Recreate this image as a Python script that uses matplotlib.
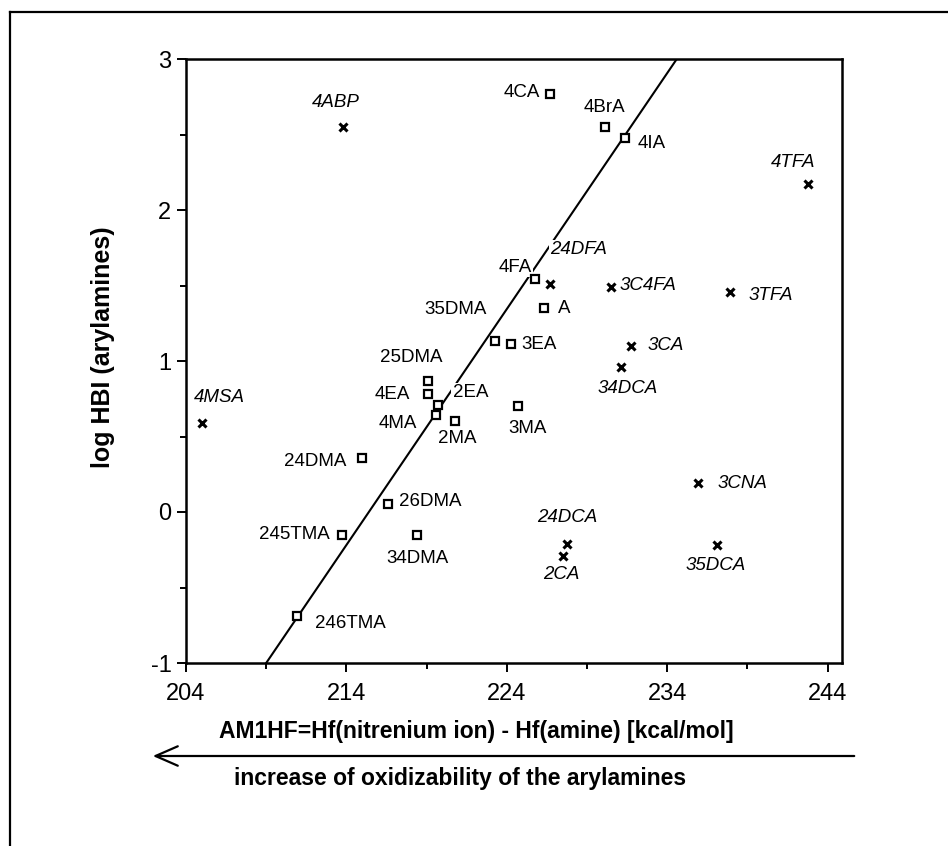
import matplotlib
matplotlib.use("Agg")
import matplotlib.pyplot as plt
from matplotlib import font_manager
from matplotlib.lines import Line2D
from matplotlib.ticker import MultipleLocator

# data
sq_names = ["4CA", "4BrA", "4IA", "4FA", "A", "3EA", "35DMA", "3MA", "25DMA", "4EA",
            "2EA", "4MA", "2MA", "24DMA", "26DMA", "245TMA", "34DMA", "246TMA"]
sq_x = [226.7, 230.1, 231.4, 225.75, 226.3, 224.25, 223.25, 224.7, 219.06, 219.06,
        219.7, 219.6, 220.8, 215.0, 216.6, 213.7, 218.4, 210.9]
sq_y = [2.77, 2.55, 2.48, 1.54, 1.35, 1.11, 1.13, 0.70, 0.87, 0.78,
        0.71, 0.64, 0.60, 0.36, 0.05, -0.15, -0.15, -0.69]

cx_names = ["4ABP", "4TFA", "24DFA", "3C4FA", "3TFA", "3CA", "34DCA", "4MSA",
            "3CNA", "24DCA", "2CA", "35DCA"]
cx_x = [213.8, 242.8, 226.7, 230.5, 237.9, 231.75, 231.1, 205.0, 235.9, 227.75, 227.5, 237.1]
cx_y = [2.55, 2.17, 1.51, 1.49, 1.46, 1.10, 0.96, 0.59, 0.19, -0.21, -0.29, -0.22]

fit_x = [209.0, 234.6]
fit_y = [-1.0, 3.0]

x_ticks = [204, 214, 224, 234, 244]
x_minor = [209, 219, 229, 239]

# label placement: (ha, dx px, dy px)
label_pos = {
    "4CA": ("right", -10, 1), "4BrA": ("center", 0, 19), "4IA": ("left", 12, -6),
    "4FA": ("right", -3, 12), "A": ("left", 14, 0), "3EA": ("left", 11, 0),
    "35DMA": ("right", -8, 32), "3MA": ("center", 10, -22), "25DMA": ("center", -16, 23),
    "4EA": ("right", -18, 0), "2EA": ("left", 15, 12), "4MA": ("right", -19, -8),
    "2MA": ("center", 2, -17), "24DMA": ("right", -16, -4), "26DMA": ("left", 11, 3),
    "245TMA": ("right", -12, 0), "34DMA": ("center", 1, -24), "246TMA": ("left", 18, -7),
    "4ABP": ("center", -7, 24), "4TFA": ("center", -15, 22), "24DFA": ("left", 0, 34),
    "3C4FA": ("left", 9, 2), "3TFA": ("left", 19, -4), "3CA": ("left", 16, 0),
    "34DCA": ("center", 7, -21), "4MSA": ("center", 17, 25), "3CNA": ("left", 20, 0),
    "24DCA": ("center", 0, 26), "2CA": ("center", -2, -19), "35DCA": ("center", -1, -20),
}

names = {f.name for f in font_manager.fontManager.ttflist}
if "Liberation Sans Narrow" in names:
    lab_font, lab_size = "Liberation Sans Narrow", 16
else:
    lab_font, lab_size = "Liberation Sans", 13.5
main_font = "Liberation Sans" if "Liberation Sans" in names else "DejaVu Sans"

plt.rcParams["font.family"] = main_font
plt.rcParams["axes.unicode_minus"] = False

W, H = 948, 846
fig = plt.figure(figsize=(W / 100, H / 100), dpi=100)
ax = fig.add_axes([186 / W, 1 - 663 / H, (842 - 186) / W, (663 - 59) / H])

ax.plot(fit_x, fit_y, color="black", lw=1.5, zorder=2)
ax.plot(sq_x, sq_y, ls="none", marker="s", ms=5.5, mfc="white", mec="black", mew=1.6, zorder=5)
ax.plot(cx_x, cx_y, ls="none", marker="x", ms=6, mec="black", mew=2.2, zorder=5)

def put_labels(nm, xs, ys, style):
    for n, x, y in zip(nm, xs, ys):
        ha, dx, dy = label_pos[n]
        ax.annotate(n, (x, y), xytext=(dx, dy), textcoords="offset pixels",
                    ha=ha, va="center", fontsize=lab_size, family=lab_font, style=style,
                    zorder=3,
                    bbox=dict(boxstyle="square,pad=0.08", fc="white", ec="none"))

put_labels(sq_names, sq_x, sq_y, "normal")
put_labels(cx_names, cx_x, cx_y, "italic")

ax.set_xlim(204, 244.9)
ax.set_ylim(-1, 3)
ax.set_xticks(x_ticks)
ax.set_xticks(x_minor, minor=True)
ax.yaxis.set_major_locator(MultipleLocator(1))
ax.yaxis.set_minor_locator(MultipleLocator(0.5))
ax.tick_params(which="major", length=6.5, width=1.4, labelsize=17)
ax.tick_params(which="minor", length=4, width=1.4)
ax.tick_params(axis="x", which="major", pad=8)
ax.tick_params(axis="y", which="major", pad=4)
for s in ax.spines.values():
    s.set_linewidth(1.8)

ax.text(0.442, -0.1126, "AM1HF=Hf(nitrenium ion) - Hf(amine) [kcal/mol]",
        transform=ax.transAxes, ha="center", va="center", fontsize=16.5, fontweight="bold")
ax.text(103 / W, 1 - 347 / H, "log HBI (arylamines)", transform=fig.transFigure,
        rotation=90, ha="center", va="center", fontsize=18, fontweight="bold")

# arrow and note below the axis
fig.text(460 / W, 1 - 778 / H, "increase of oxidizability of the arylamines",
         ha="center", va="center", fontsize=16.5, fontweight="bold")
fig.add_artist(matplotlib.patches.FancyArrowPatch(
    (857 / W, 1 - 756 / H), (150 / W, 1 - 756 / H), transform=fig.transFigure,
    arrowstyle="->,head_length=0.8,head_width=0.35", mutation_scale=20, lw=1.6, color="black"))

# outer frame of the scanned page
fig.add_artist(Line2D([10 / W, 1], [1 - 12 / H, 1 - 12 / H], transform=fig.transFigure, color="black", lw=1.6))
fig.add_artist(Line2D([10 / W, 10 / W], [0, 1 - 12 / H], transform=fig.transFigure, color="black", lw=1.6))

fig.savefig("out.png", dpi=100)
